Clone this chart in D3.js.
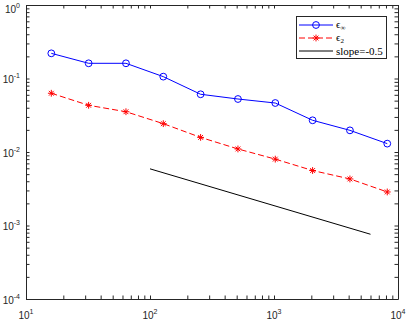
<!DOCTYPE html>
<html>
<head>
<meta charset="utf-8">
<script src="https://cdn.jsdelivr.net/npm/d3@7"></script>
<style>
  body { margin: 0; background: #fff; }
  svg { display: block; }
  .lgtext { font-family: "Liberation Serif", "DejaVu Serif", serif; font-size: 11px; }
</style>
</head>
<body>
<svg id="chart" width="407" height="320"></svg>
<script>
// grid sizes and measured errors
var nVals = [16, 32, 64, 128, 256, 512, 1024, 2048, 4096, 8192];
var errInf = [0.22, 0.161, 0.161, 0.106, 0.061, 0.0526, 0.0464, 0.027, 0.0197, 0.013];
var err2 = [0.063, 0.0432, 0.0353, 0.0243, 0.0158, 0.011, 0.0080, 0.0056, 0.0043, 0.00286];
var slopeX = [100, 6000];
var slopeY = [0.0059, 0.00076];
var xTickExp = [1, 2, 3, 4];
var yTickExp = [0, -1, -2, -3, -4];

var axisColor = "#262626";
var mLeft = 26, mRight = 398, mTop = 5, mBottom = 299;

var svg = d3.select("#chart");

var x = d3.scaleLog().domain([10, 10000]).range([mLeft, mRight]);
var y = d3.scaleLog().domain([1e-4, 1]).range([mBottom, mTop]);

var tl = 3.5;
function styleAxis(g) {
  g.select(".domain").attr("stroke", axisColor);
  g.selectAll(".tick line").attr("stroke", axisColor);
  g.selectAll(".tick text").remove();
}

svg.append("g").attr("transform", "translate(0," + mBottom + ")")
  .call(d3.axisBottom(x).ticks(10).tickSize(-tl).tickSizeOuter(0).tickFormat(""))
  .call(styleAxis);
svg.append("g").attr("transform", "translate(0," + mTop + ")")
  .call(d3.axisTop(x).ticks(10).tickSize(-tl).tickSizeOuter(0).tickFormat(""))
  .call(styleAxis);
svg.append("g").attr("transform", "translate(" + mLeft + ",0)")
  .call(d3.axisLeft(y).ticks(10).tickSize(-tl).tickSizeOuter(0).tickFormat(""))
  .call(styleAxis);
svg.append("g").attr("transform", "translate(" + mRight + ",0)")
  .call(d3.axisRight(y).ticks(10).tickSize(-tl).tickSizeOuter(0).tickFormat(""))
  .call(styleAxis);

// tick labels with superscripts
var labelFont = "'Liberation Sans', Arial, Helvetica, sans-serif";
xTickExp.forEach(function(e) {
  var t = svg.append("text")
    .attr("x", x(Math.pow(10, e)))
    .attr("y", mBottom + 20)
    .attr("text-anchor", "middle")
    .attr("font-family", labelFont)
    .attr("font-size", 10)
    .attr("fill", axisColor);
  t.append("tspan").text("10");
  t.append("tspan").attr("dy", -5).attr("font-size", 7).text(e);
});
yTickExp.forEach(function(e) {
  var yy = Math.max(y(Math.pow(10, e)) + 4.5, 12.5);
  var t = svg.append("text")
    .attr("x", mLeft - 6)
    .attr("y", yy)
    .attr("text-anchor", "end")
    .attr("font-family", labelFont)
    .attr("font-size", 10)
    .attr("fill", axisColor);
  t.append("tspan").text("10");
  t.append("tspan").attr("dy", -5).attr("font-size", 7).text(e);
});

var line = d3.line().x(function(d) { return x(d[0]); }).y(function(d) { return y(d[1]); });

function starPath(cx, cy, r) {
  var p = d3.path();
  var d = r * Math.SQRT1_2;
  p.moveTo(cx - r, cy); p.lineTo(cx + r, cy);
  p.moveTo(cx, cy - r); p.lineTo(cx, cy + r);
  p.moveTo(cx - d, cy - d); p.lineTo(cx + d, cy + d);
  p.moveTo(cx - d, cy + d); p.lineTo(cx + d, cy - d);
  return p.toString();
}

var plot = svg.append("g");

// eps_inf
plot.append("path")
  .datum(d3.zip(nVals, errInf))
  .attr("d", line)
  .attr("fill", "none").attr("stroke", "#0000ff").attr("stroke-width", 1);
plot.selectAll(".circ").data(d3.zip(nVals, errInf)).enter()
  .append("circle")
  .attr("cx", function(d) { return x(d[0]); })
  .attr("cy", function(d) { return y(d[1]); })
  .attr("r", 3.4)
  .attr("fill", "none").attr("stroke", "#0000ff").attr("stroke-width", 1);

// eps_2
plot.append("path")
  .datum(d3.zip(nVals, err2))
  .attr("d", line)
  .attr("fill", "none").attr("stroke", "#ff0000").attr("stroke-width", 1)
  .attr("stroke-dasharray", "6,3");
plot.selectAll(".star").data(d3.zip(nVals, err2)).enter()
  .append("path")
  .attr("d", function(d) { return starPath(x(d[0]), y(d[1]), 3.4); })
  .attr("fill", "none").attr("stroke", "#ff0000").attr("stroke-width", 1);

// reference slope
plot.append("path")
  .datum(d3.zip(slopeX, slopeY))
  .attr("d", line)
  .attr("fill", "none").attr("stroke", "#000").attr("stroke-width", 1);

// legend
var lg = svg.append("g");
lg.append("rect")
  .attr("x", 296.5).attr("y", 16.5).attr("width", 90).attr("height", 42)
  .attr("fill", "#fff").attr("stroke", axisColor).attr("stroke-width", 1);

var ly = [25, 38, 51];
lg.append("line").attr("x1", 299).attr("x2", 333).attr("y1", ly[0]).attr("y2", ly[0])
  .attr("stroke", "#0000ff");
lg.append("circle").attr("cx", 316).attr("cy", ly[0]).attr("r", 3.4)
  .attr("fill", "none").attr("stroke", "#0000ff");
lg.append("line").attr("x1", 299).attr("x2", 333).attr("y1", ly[1]).attr("y2", ly[1])
  .attr("stroke", "#ff0000").attr("stroke-dasharray", "6,3");
lg.append("path").attr("d", starPath(316, ly[1], 3.4))
  .attr("fill", "none").attr("stroke", "#ff0000");
lg.append("line").attr("x1", 299).attr("x2", 333).attr("y1", ly[2]).attr("y2", ly[2])
  .attr("stroke", "#000");

var t1 = lg.append("text").attr("class", "lgtext").attr("x", 336).attr("y", ly[0] + 3);
t1.append("tspan").text("ϵ");
t1.append("tspan").attr("dy", 2).style("font-size", "7px").text("∞");
var t2 = lg.append("text").attr("class", "lgtext").attr("x", 336).attr("y", ly[1] + 3);
t2.append("tspan").text("ϵ");
t2.append("tspan").attr("dy", 2).style("font-size", "7px").text("2");
lg.append("text").attr("class", "lgtext").attr("x", 336).attr("y", ly[2] + 3.5)
  .text("slope=-0.5");
</script>
</body>
</html>
